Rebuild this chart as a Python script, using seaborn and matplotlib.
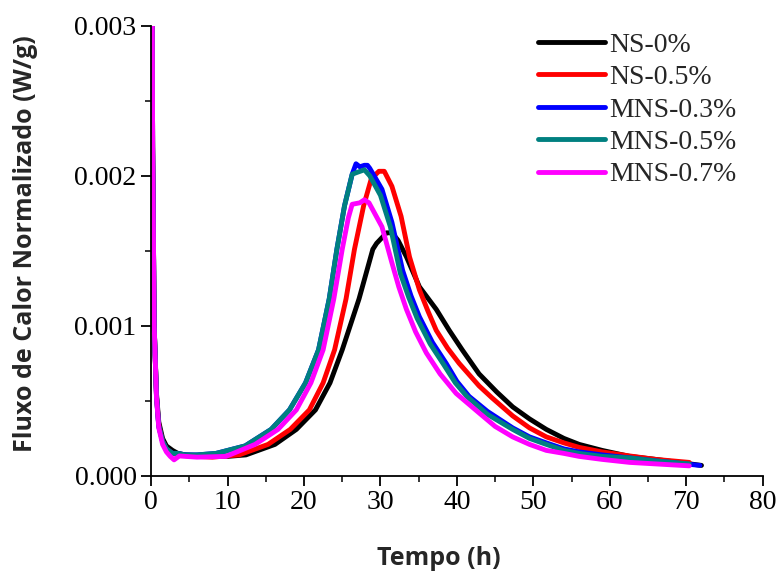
import matplotlib
matplotlib.use('Agg')
import matplotlib.pyplot as plt
import seaborn as sns
import pandas as pd
from matplotlib.ticker import MultipleLocator

# Fluxo de calor normalizado (W/g) vs tempo (h)
t_ns0 = [0.05, 0.2, 0.4, 0.7, 1.0, 1.5, 2.0, 2.8, 3.5, 4.5, 6, 8, 10, 12.4, 16.2, 19.0, 21.5,
         23.4, 25.0, 27.2, 29.0, 29.5, 30.8, 31.5, 32.3, 33.4, 35.1, 37.3, 39, 40.7, 42.9,
         45.2, 47.3, 49.5, 51.7, 54, 56, 59, 62.6, 66, 72]
q_ns0 = [0.0045, 0.0022, 0.0010, 0.00055, 0.00036, 0.00025, 0.00020, 0.00017, 0.00015, 0.00014,
         0.000135, 0.00013, 0.00013, 0.00014, 0.00021, 0.00031, 0.00044, 0.00062, 0.00084,
         0.00118, 0.00151, 0.00155, 0.00162, 0.00162, 0.00157, 0.00146, 0.00126, 0.00111,
         0.00097, 0.00084, 0.00068, 0.00056, 0.00046, 0.00038, 0.00031, 0.00025, 0.00021,
         0.00017, 0.00013, 0.00011, 0.00007]

t_ns05 = [0.05, 0.2, 0.4, 0.7, 1.0, 1.5, 2.0, 2.8, 3.5, 4.5, 6, 8, 11.5, 15.3, 18.2, 20.7, 22.5,
          24.0, 25.5, 26.6, 27.8, 28.8, 29.8, 30.5, 31.5, 32.7, 33.8, 35.1, 36.2, 37.3, 38.8,
          40.3, 42.9, 44.6, 47.3, 49.5, 51.7, 54, 56, 59, 62.6, 66, 70.4]
q_ns05 = [0.0045, 0.0022, 0.0010, 0.00053, 0.00034, 0.00023, 0.00018, 0.00015, 0.00014,
          0.000135, 0.00013, 0.000125, 0.00014, 0.00021, 0.00031, 0.00044, 0.00062, 0.00084,
          0.00118, 0.00151, 0.00180, 0.00198, 0.00203, 0.00203, 0.00193, 0.00173, 0.00146,
          0.00124, 0.00110, 0.00097, 0.00085, 0.00075, 0.00060, 0.00052, 0.00040, 0.00032,
          0.00026, 0.00022, 0.00019, 0.00016, 0.000133, 0.00011, 0.00009]

t_mns03 = [0.05, 0.2, 0.4, 0.7, 1.0, 1.5, 2.0, 2.8, 3.4, 4.5, 6, 8.5, 12.3, 15.7, 18.1, 20.2,
           21.9, 23.3, 24.3, 25.3, 26.3, 26.8, 27.3, 27.9, 28.3, 28.6, 30.2, 31.5, 32.9, 34.0,
           35.1, 36.8, 38.6, 40.0, 41.6, 44, 47.3, 49.5, 51.7, 54, 56, 59, 62.6, 66, 71.8]
q_mns03 = [0.0045, 0.0022, 0.0010, 0.00053, 0.00033, 0.00023, 0.00018, 0.00015, 0.00015,
           0.00014, 0.00014, 0.00015, 0.00020, 0.00031, 0.00044, 0.00062, 0.00084, 0.00118,
           0.00151, 0.00180, 0.00201, 0.00208, 0.00206, 0.00207, 0.00207, 0.00205, 0.00191,
           0.00169, 0.00137, 0.00120, 0.00106, 0.00089, 0.00075, 0.00063, 0.00053, 0.00043,
           0.00032, 0.00026, 0.00022, 0.00018, 0.00016, 0.00014, 0.00012, 0.00010, 0.00007]

t_mns05 = [0.05, 0.2, 0.4, 0.7, 1.0, 1.5, 2.0, 2.8, 3.4, 4.5, 6, 8.5, 12.3, 15.7, 18.1, 20.2,
           21.9, 23.3, 24.3, 25.3, 26.3, 26.8, 27.9, 28.6, 30.0, 31.3, 32.6, 33.7, 34.8, 36.5,
           38.3, 39.8, 41.3, 44, 47.3, 49.5, 51.7, 54, 56, 59, 62.6, 66, 70.4]
q_mns05 = [0.0045, 0.0022, 0.0010, 0.00053, 0.00033, 0.00023, 0.00018, 0.00015, 0.00015,
           0.00014, 0.00014, 0.00015, 0.00020, 0.00031, 0.00044, 0.00062, 0.00084, 0.00118,
           0.00151, 0.00180, 0.00201, 0.00202, 0.00204, 0.00200, 0.00187, 0.00166, 0.00135,
           0.00119, 0.00105, 0.00088, 0.00074, 0.00062, 0.00053, 0.00041, 0.00031, 0.00025,
           0.00021, 0.00017, 0.00015, 0.00013, 0.00012, 0.00010, 0.00008]

t_mns07 = [0.05, 0.2, 0.4, 0.7, 1.0, 1.5, 2.0, 2.5, 3.0, 3.7, 4.5, 6, 9.8, 13.6, 16.6, 19.0,
           20.9, 22.5, 23.9, 25.0, 25.8, 26.3, 27.3, 27.9, 28.5, 30.2, 31.5, 32.4, 33.4, 34.6,
           36, 37.8, 39.9, 42.9, 45, 47.3, 49.5, 51.7, 54, 56, 59, 62.6, 66, 70.4]
q_mns07 = [0.0045, 0.0022, 0.0010, 0.00052, 0.00032, 0.00021, 0.00016, 0.00013, 0.000107,
           0.000133, 0.00013, 0.000125, 0.00013, 0.00021, 0.00031, 0.00044, 0.00062, 0.00084,
           0.00118, 0.00151, 0.00172, 0.00181, 0.00182, 0.00184, 0.00182, 0.00166, 0.00142,
           0.00126, 0.00111, 0.00096, 0.00082, 0.00068, 0.00055, 0.00042, 0.00033, 0.00026,
           0.00021, 0.00017, 0.00015, 0.00013, 0.00011, 0.00009, 0.00008, 0.000067]

amostras = ['NS-0%', 'NS-0.5%', 'MNS-0.3%', 'MNS-0.5%', 'MNS-0.7%']
cores = ['#000000', '#FF0000', '#0000FF', '#008080', '#FF00FF']
tempos = [t_ns0, t_ns05, t_mns03, t_mns05, t_mns07]
fluxos = [q_ns0, q_ns05, q_mns03, q_mns05, q_mns07]

frames = []
for nome, t, q in zip(amostras, tempos, fluxos):
    frames.append(pd.DataFrame({'Tempo': t, 'Fluxo': q, 'Amostra': nome}))
df = pd.concat(frames, ignore_index=True)

sns.set_style('ticks')
plt.rcParams['font.family'] = ['Liberation Serif', 'DejaVu Serif']

fig = plt.figure(figsize=(7.79, 5.72), dpi=100)
ax = fig.add_axes([0.194, 0.168, 0.785, 0.787])
sns.lineplot(data=df, x='Tempo', y='Fluxo', hue='Amostra', hue_order=amostras,
             palette=dict(zip(amostras, cores)), sort=False, estimator=None,
             linewidth=3.5, ax=ax)

ax.set_xlim(0, 80)
ax.set_ylim(0, 0.003)
ax.xaxis.set_major_locator(MultipleLocator(10))
ax.xaxis.set_minor_locator(MultipleLocator(5))
ax.yaxis.set_major_locator(MultipleLocator(0.001))
ax.yaxis.set_minor_locator(MultipleLocator(0.0005))
ax.yaxis.set_major_formatter(plt.FormatStrFormatter('%.3f'))
ax.tick_params(which='major', direction='out', length=7, width=1.3, labelsize=20,
               color='black', labelcolor='black')
ax.tick_params(which='minor', direction='out', length=4, width=1.3)
for s in ['left', 'bottom']:
    ax.spines[s].set_linewidth(1.3)
    ax.spines[s].set_color('black')
sns.despine(ax=ax)

lbl = dict(family=['Open Sans', 'DejaVu Sans'], fontweight='bold', fontsize=18)
ax.set_xlabel('Tempo (h)', **lbl)
ax.set_ylabel('Fluxo de Calor Normalizado (W/g)', **lbl)
ax.xaxis.set_label_coords(0.47, -0.155)
ax.yaxis.set_label_coords(-0.185, 0.515)

leg = ax.legend(loc='upper right', bbox_to_anchor=(0.975, 1.01), frameon=False,
                fontsize=20, handlelength=2.4, handletextpad=0.15, labelspacing=0.25,
                borderaxespad=0)
for h in leg.get_lines():
    h.set_linewidth(3.5)

fig.savefig('out.png', dpi=100)
